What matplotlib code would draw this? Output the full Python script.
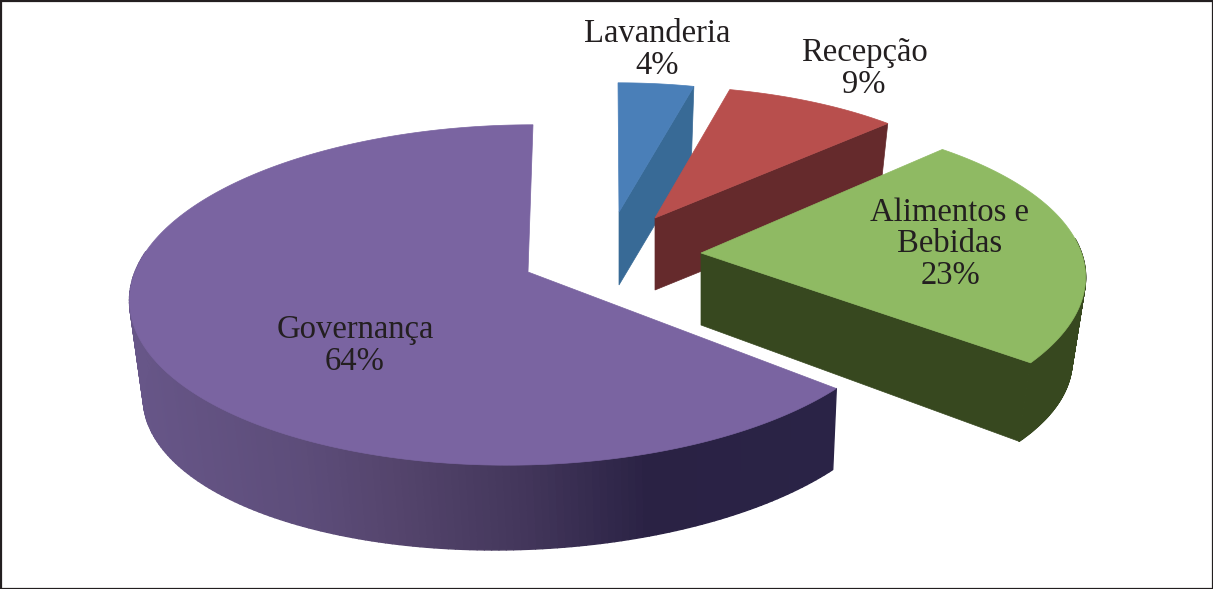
import numpy as np
import matplotlib
matplotlib.use('Agg')
import matplotlib.pyplot as plt
from matplotlib.collections import PolyCollection
from matplotlib.colors import to_rgb
from matplotlib.patches import Polygon

# Shares in percent, clockwise from the top of the pie
labels = ['Lavanderia', 'Recepção', 'Alimentos e\nBebidas', 'Governança']
values = [4, 9, 23, 64]

# Layout in pixels, one entry per slice: apex of the top face, radius, wall height
apex_x = [619, 655, 701, 528]
apex_y = [212, 218, 253, 272]
radius = [345, 352, 390, 385]
height = [73, 72, 72, 91]
flatten = [0.425, 0.425, 0.42, 0.434]
turn = [0, -0.5, -3.5, 0]     # small rotation of a slice, degrees
arc_dx = [-1, 0, -8, -8]      # sideways shift of the arc
arc_dy = [0, 0, 5, 0]
arc_skew = [0, 0, 8, 13]      # sheared perspective of the arc
wall_tilt = [0, 0, -0.17, 0.08]
wall_dx = [0, 0, 0, 8]
top_colors = ['#4a7fb8', '#b84f4d', '#8fba63', '#7a64a1']
cut_colors = ['#386a96', '#652a2c', '#37481f', '#5f4d80']

# Shading of the Governança wall along x
wall_x = [130, 300, 400, 520, 650, 840]
wall_colors = ['#675688', '#5d4d7a', '#54446c', '#44375c', '#2a2244', '#2a2346']

label_x = [657, 864, 950, 355]
label_y = [50, 69, 244, 346]
label_pct = ['4%', '9%', '23%', '64%']

PERSP = 0.135
SHRINK = 0.965


def top_points(i, theta):
    # theta in degrees, clockwise from the back of the pie
    t = np.radians(theta + turn[i])
    u, v = np.sin(t), np.cos(t)
    s = 1 / (1 + PERSP * v)
    x = apex_x[i] + radius[i] * u * s + arc_dx[i] + arc_skew[i] * v
    y = apex_y[i] - radius[i] * flatten[i] * v * s + arc_dy[i]
    return x, y


def lower(i, x, y):
    side = (x - apex_x[i]) / radius[i]
    h = height[i] * (1 - wall_tilt[i] * side)
    return (apex_x[i] + (x - apex_x[i]) * SHRINK + wall_dx[i] * (1 + side) / 2,
            apex_y[i] + (y - apex_y[i]) * SHRINK + h)


fig = plt.figure(figsize=(12.13, 5.89), dpi=100)
ax = fig.add_axes([0, 0, 1, 1])
ax.set_xlim(0, 1213)
ax.set_ylim(589, 0)
ax.axis('off')

edges = np.concatenate([[0], np.cumsum(values) / np.sum(values) * 360])
wall_rgb = np.array([to_rgb(c) for c in wall_colors])

for i in range(len(values)):
    start, end = edges[i], edges[i + 1]
    th = np.linspace(start, end, 240)
    x, y = top_points(i, th)
    ax0, ay0 = apex_x[i], apex_y[i]

    if i < 3:
        # cut face at the end of the slice
        ex, ey = x[-1], y[-1]
        lx, ly = lower(i, ex, ey)
        ax.add_patch(Polygon([(ax0, ay0), (ex, ey), (lx, ly), (ax0, ay0 + height[i])],
                             closed=True, fc=cut_colors[i], ec=cut_colors[i], lw=0.5, zorder=i * 3))

    # rim wall, only where it faces the viewer
    lx, ly = lower(i, x, y)
    quads = []
    cols = []
    for k in range(len(th) - 1):
        if np.cos(np.radians(th[k] + turn[i])) > 0.12:
            continue
        quads.append([(x[k], y[k]), (x[k + 1], y[k + 1]), (lx[k + 1], ly[k + 1]), (lx[k], ly[k])])
        if i == 3:
            cols.append([np.interp(x[k], wall_x, wall_rgb[:, c]) for c in range(3)])
        else:
            cols.append(cut_colors[i])
    if quads:
        ax.add_collection(PolyCollection(quads, facecolors=cols, edgecolors=cols, linewidths=1.0,
                                         zorder=i * 3 + 1))

    # top face
    pts = np.column_stack([np.r_[ax0, x], np.r_[ay0, y]])
    ax.add_patch(Polygon(pts, closed=True, fc=top_colors[i], ec=top_colors[i], lw=0.5, zorder=i * 3 + 2))

for name, pct, lx, ly in zip(labels, label_pct, label_x, label_y):
    ax.text(lx, ly, name + '\n' + pct, ha='center', va='center', fontsize=23.5,
            family='Liberation Serif', color='#231f20', linespacing=1.05, zorder=20)

ax.add_patch(plt.Rectangle((0.5, 0.5), 1212, 588, fill=False, ec='#231f20', lw=1.6, zorder=30))

fig.savefig('out.png', dpi=100)
